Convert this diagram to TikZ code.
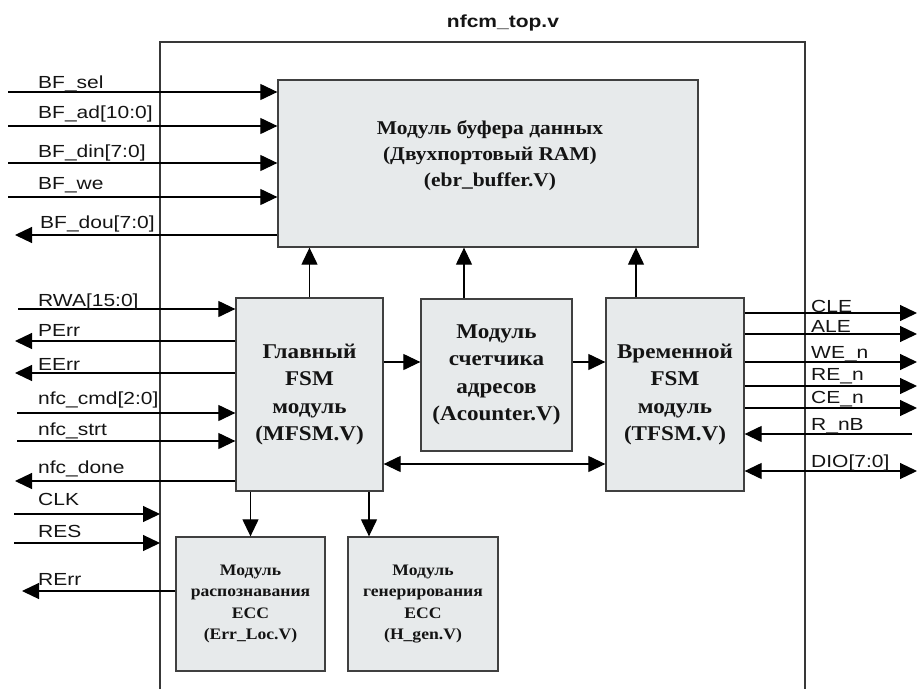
\documentclass[tikz,border=0pt]{standalone}
\usepackage{fontspec}
\setmainfont{Liberation Serif}
\newfontfamily\labfont[FakeStretch=1.2]{Liberation Sans}
\newfontfamily\modfont[FakeStretch=1.1]{Liberation Serif}
\usetikzlibrary{arrows.meta}
\definecolor{boxgray}{HTML}{E7EAEB}
\definecolor{framecol}{HTML}{383838}
\definecolor{txtcol}{HTML}{141414}
\tikzset{
  modbox/.style={draw=black!75, line width=1.3pt, fill=boxgray, inner sep=0pt,
                 align=center, text=txtcol},
  bigtxt/.style={font={\modfont\bfseries\fontsize{21}{27.5}\selectfont}},
  midtxt/.style={font={\modfont\bfseries\fontsize{19.5}{26}\selectfont}},
  smalltxt/.style={font={\modfont\bfseries\fontsize{16}{21.5}\selectfont}},
  sig/.style={line width=1.2pt, -{Triangle[length=17pt,width=16pt]}},
  bsig/.style={line width=1.2pt, {Triangle[length=17pt,width=16pt]}-{Triangle[length=17pt,width=16pt]}},
  lab/.style={font={\labfont\fontsize{17.5}{20}\selectfont}, anchor=base west,
              inner sep=0pt, text=txtcol},
  framel/.style={draw=framecol, line width=1.8pt}
}
\begin{document}
\begin{tikzpicture}[x=1pt,y=-1pt]
\useasboundingbox (0,0) rectangle (919,689);

% outer frame and title
\coordinate (fbl) at (160,689);
\coordinate (ftl) at (160,42);
\coordinate (ftr) at (805,42);
\coordinate (fbr) at (805,689);
\draw[framel] (fbl) -- (ftl) -- (ftr) -- (fbr);
\node[font={\labfont\bfseries\fontsize{17.5}{20}\selectfont}, anchor=base, inner sep=0pt, text=txtcol] (title) at (503,27) {nfcm\_top.v};

% modules
\node[modbox, minimum width=420pt, minimum height=167pt] (buf) at (488,163.5) {};
\node[midtxt, align=center, text=txtcol, inner sep=0pt] (buftxt) at (490,156)
  {Модуль буфера данных\\(Двухпортовый RAM)\\(ebr\_buffer.V)};
\node[modbox, bigtxt, minimum width=147pt, minimum height=193pt] (mfsm) at (309.5,394.5)
  {Главный\\FSM\\модуль\\(MFSM.V)};
\node[modbox, bigtxt, minimum width=151pt, minimum height=152pt] (acnt) at (496.5,375)
  {Модуль\\счетчика\\адресов\\(Acounter.V)};
\node[modbox, bigtxt, minimum width=138pt, minimum height=193pt] (tfsm) at (675,394.5)
  {Временной\\FSM\\модуль\\(TFSM.V)};
\node[modbox, smalltxt, minimum width=149pt, minimum height=134pt] (eloc) at (250.5,604)
  {Модуль\\распознавания\\ECC\\(Err\_Loc.V)};
\node[modbox, smalltxt, minimum width=150pt, minimum height=134pt] (hgen) at (423,604)
  {Модуль\\генерирования\\ECC\\(H\_gen.V)};

% buffer interface
\coordinate (bfsel) at (8,92);
\coordinate (bfad) at (8,126);
\coordinate (bfdin) at (8,163);
\coordinate (bfwe) at (8,197);
\coordinate (bfdou) at (15,235);
\draw[sig] (bfsel) -- (bfsel -| buf.west);
\draw[sig] (bfad) -- (bfad -| buf.west);
\draw[sig] (bfdin) -- (bfdin -| buf.west);
\draw[sig] (bfwe) -- (bfwe -| buf.west);
\draw[sig] (bfdou -| buf.west) -- (bfdou);
\node[lab] (lbfsel) at (38,88) {BF\_sel};
\node[lab] (lbfad) at (38,118) {BF\_ad[10:0]};
\node[lab] (lbfdin) at (38,157) {BF\_din[7:0]};
\node[lab] (lbfwe) at (38,189) {BF\_we};
\node[lab] (lbfdou) at (40,228) {BF\_dou[7:0]};

% main FSM interface
\coordinate (rwa) at (18,309);
\coordinate (perr) at (15,341);
\coordinate (eerr) at (15,373);
\coordinate (cmd) at (17,413);
\coordinate (strt) at (17,441);
\coordinate (done) at (15,481);
\draw[sig] (rwa) -- (rwa -| mfsm.west);
\draw[sig] (perr -| mfsm.west) -- (perr);
\draw[sig] (eerr -| mfsm.west) -- (eerr);
\draw[sig] (cmd) -- (cmd -| mfsm.west);
\draw[sig] (strt) -- (strt -| mfsm.west);
\draw[sig] (done -| mfsm.west) -- (done);
\node[lab] (lrwa) at (38,306) {RWA[15:0]};
\node[lab] (lperr) at (38,336) {PErr};
\node[lab] (leerr) at (38,370) {EErr};
\node[lab] (lcmd) at (38,404) {nfc\_cmd[2:0]};
\node[lab] (lstrt) at (38,435) {nfc\_strt};
\node[lab] (ldone) at (38,473) {nfc\_done};

% clock, reset, error
\coordinate (clk) at (14,514);
\coordinate (res) at (14,543);
\coordinate (rerr) at (22,591);
\draw[sig] (clk) -- (clk -| ftl);
\draw[sig] (res) -- (res -| ftl);
\draw[sig] (rerr -| eloc.west) -- (rerr);
\node[lab] (lclk) at (38,505) {CLK};
\node[lab] (lres) at (38,537) {RES};
\node[lab] (lrerr) at (38,585) {RErr};

% NAND interface
\coordinate (cle) at (917,313);
\coordinate (ale) at (917,334);
\coordinate (wen) at (917,362);
\coordinate (ren) at (917,386);
\coordinate (cen) at (917,408);
\coordinate (rnb) at (912,434);
\coordinate (dio) at (917,471);
\draw[sig] (cle -| tfsm.east) -- (cle);
\draw[sig] (ale -| tfsm.east) -- (ale);
\draw[sig] (wen -| tfsm.east) -- (wen);
\draw[sig] (ren -| tfsm.east) -- (ren);
\draw[sig] (cen -| tfsm.east) -- (cen);
\draw[sig] (rnb) -- (rnb -| tfsm.east);
\draw[bsig] (dio -| tfsm.east) -- (dio);
\node[lab] (lcle) at (811,312) {CLE};
\node[lab] (lale) at (811,332) {ALE};
\node[lab] (lwen) at (811,358) {WE\_n};
\node[lab] (lren) at (811,380) {RE\_n};
\node[lab] (lcen) at (811,403) {CE\_n};
\node[lab] (lrnb) at (811,430) {R\_nB};
\node[lab] (ldio) at (811,467) {DIO[7:0]};

% internal connections
\coordinate (acup) at (464,0);
\coordinate (tup) at (636,0);
\coordinate (mid) at (0,362);
\coordinate (bot) at (0,464);
\coordinate (hg) at (369,0);
\draw[sig] (mfsm.north) -- (mfsm.north |- buf.south);
\draw[sig] (acup |- acnt.north) -- (acup |- buf.south);
\draw[sig] (tup |- tfsm.north) -- (tup |- buf.south);
\draw[sig] (mid -| mfsm.east) -- (mid -| acnt.west);
\draw[sig] (mid -| acnt.east) -- (mid -| tfsm.west);
\draw[bsig] (bot -| mfsm.east) -- (bot -| tfsm.west);
\draw[sig] (eloc.north |- mfsm.south) -- (eloc.north);
\draw[sig] (hg |- mfsm.south) -- (hg |- hgen.north);
\end{tikzpicture}
\end{document}
